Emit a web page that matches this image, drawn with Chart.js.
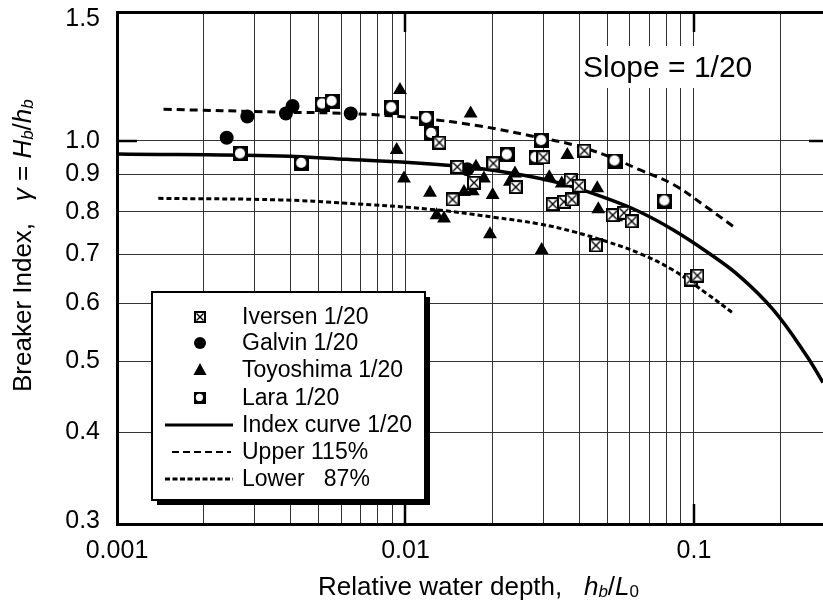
<!DOCTYPE html>
<html>
<head>
<meta charset="utf-8">
<script src="https://cdn.jsdelivr.net/npm/chart.js@4.4.1/dist/chart.umd.min.js"></script>
<style>
  html, body { margin: 0; padding: 0; background: #fff; }
  #wrap { width: 823px; height: 601px; }
</style>
</head>
<body>
<div id="wrap"><canvas id="grafico" width="823" height="601"></canvas></div>
<script>
// Datos (x = hb/L0, y = gamma)
const iversenX = [0.0131, 0.01512, 0.02016, 0.01727, 0.01456, 0.0241, 0.03003, 0.03737, 0.03236, 0.0354, 0.0377, 0.04168, 0.0399, 0.05224, 0.0572, 0.0608, 0.0457, 0.0974, 0.1027];
const iversenY = [0.995, 0.922, 0.932, 0.877, 0.832, 0.865, 0.950, 0.885, 0.820, 0.826, 0.832, 0.970, 0.869, 0.792, 0.798, 0.777, 0.720, 0.647, 0.655];

const galvinX = [0.0024, 0.00283, 0.00385, 0.00406, 0.00646, 0.01637];
const galvinY = [1.01, 1.08, 1.09, 1.116, 1.09, 0.915];

const toyoX = [0.00957, 0.00932, 0.00988, 0.01682, 0.01755, 0.0187, 0.01595, 0.0171, 0.01216, 0.02005, 0.02396, 0.02302, 0.0315, 0.0348, 0.0364, 0.0462, 0.01282, 0.0136, 0.01963, 0.02965, 0.0466, 0.0537];
const toyoY = [1.174, 0.972, 0.889, 1.09, 0.922, 0.889, 0.852, 0.854, 0.850, 0.844, 0.903, 0.880, 0.892, 0.875, 0.957, 0.862, 0.792, 0.784, 0.746, 0.710, 0.807, 0.787];

const laraX = [0.00268, 0.00437, 0.00516, 0.00557, 0.00896, 0.01185, 0.01233, 0.02254, 0.02965, 0.02834, 0.05324, 0.0793];
const laraY = [0.96, 0.932, 1.123, 1.132, 1.11, 1.074, 1.024, 0.957, 1.001, 0.949, 0.939, 0.828];

const indexX = [0.001, 0.00367, 0.00625, 0.01465, 0.02364, 0.0343, 0.0498, 0.065, 0.0848, 0.1107, 0.1443, 0.1884, 0.245, 0.28];
const indexY = [0.960, 0.954, 0.944, 0.925, 0.903, 0.876, 0.835, 0.800, 0.756, 0.706, 0.653, 0.588, 0.510, 0.468];

const upperX = [0.00145, 0.00367, 0.00646, 0.01122, 0.01812, 0.03085, 0.03817, 0.0498, 0.065, 0.0848, 0.1107, 0.137];
const upperY = [1.105, 1.095, 1.09, 1.074, 1.048, 1.006, 0.988, 0.955, 0.913, 0.872, 0.812, 0.764];

const lowerX = [0.00139, 0.00367, 0.00625, 0.01216, 0.02016, 0.02926, 0.03817, 0.0498, 0.065, 0.0848, 0.1107, 0.1368];
const lowerY = [0.835, 0.831, 0.822, 0.807, 0.787, 0.770, 0.752, 0.729, 0.702, 0.666, 0.619, 0.582];

// Ticks
const xTicks = [0.001, 0.002, 0.003, 0.004, 0.005, 0.006, 0.007, 0.008, 0.009, 0.01, 0.02, 0.03, 0.04, 0.05, 0.06, 0.07, 0.08, 0.09, 0.1, 0.2];
const xTickLabels = ['0.001', '', '', '', '', '', '', '', '', '0.01', '', '', '', '', '', '', '', '', '0.1', ''];
const yTicks = [0.3, 0.4, 0.5, 0.6, 0.7, 0.8, 0.9, 1.0, 1.5];
const yTickLabels = ['0.3', '0.4', '0.5', '0.6', '0.7', '0.8', '0.9', '1.0', '1.5'];
const majorX = [0.01, 0.1];
const majorY = [1.0];

const legendLabels = ['Iversen 1/20', 'Galvin 1/20', 'Toyoshima 1/20', 'Lara 1/20', 'Index curve 1/20', 'Upper 115%', 'Lower   87%'];
const slopeText = 'Slope = 1/20';

const FUENTE = '"Liberation Sans", Arial, Helvetica, sans-serif';

const pts = (xs, ys) => xs.map((x, i) => ({ x: x, y: ys[i] }));

// Marcadores dibujados a mano
function marcaIversen(s) {
    const c = document.createElement('canvas');
    c.width = s; c.height = s;
    const g = c.getContext('2d');
    g.fillStyle = '#fff';
    g.fillRect(0, 0, s, s);
    g.strokeStyle = '#000';
    g.lineWidth = 2;
    g.strokeRect(1, 1, s - 2, s - 2);
    g.lineWidth = 1.4;
    g.beginPath();
    g.moveTo(2.5, 2.5); g.lineTo(s - 2.5, s - 2.5);
    g.moveTo(s - 2.5, 2.5); g.lineTo(2.5, s - 2.5);
    g.stroke();
    return c;
}
function marcaLara(s) {
    const c = document.createElement('canvas');
    c.width = s; c.height = s;
    const g = c.getContext('2d');
    g.fillStyle = '#000';
    g.fillRect(0, 0, s, s);
    g.fillStyle = '#fff';
    g.beginPath();
    g.arc(s / 2 - 0.6, s / 2 - 0.6, s / 2 - 2.4, 0, Math.PI * 2);
    g.fill();
    return c;
}

const imgIversen = marcaIversen(14);
const imgLara = marcaLara(15);
const imgIversenLeg = marcaIversen(12);
const imgLaraLeg = marcaLara(12);

function linea(ctx, x1, y1, x2, y2) {
    ctx.beginPath(); ctx.moveTo(x1, y1); ctx.lineTo(x2, y2); ctx.stroke();
}

// Texto con partes en cursiva / subindice
function textoRico(ctx, partes, x, y) {
    let cx = x;
    partes.forEach(p => {
        ctx.font = p.f;
        ctx.fillText(p.t, cx, y + (p.dy || 0));
        cx += ctx.measureText(p.t).width;
    });
}

const decor = {
    id: 'decor',
    beforeDatasetsDraw(chart) {
        const { ctx, chartArea: a, scales } = chart;
        ctx.save();
        // caja blanca del texto de pendiente
        ctx.fillStyle = '#fff';
        ctx.fillRect(581, 46, 180, 42);
        ctx.fillStyle = '#000';
        ctx.font = '30px ' + FUENTE;
        ctx.textBaseline = 'alphabetic';
        ctx.fillText(slopeText, 583, 77);
        // ticks mayores hacia adentro
        ctx.strokeStyle = '#000';
        ctx.lineWidth = 2.5;
        majorX.forEach(v => {
            const px = Math.round(scales.x.getPixelForValue(v));
            linea(ctx, px, a.top, px, a.top + 20);
            linea(ctx, px, a.bottom - 20, px, a.bottom);
        });
        majorY.forEach(v => {
            const py = Math.round(scales.y.getPixelForValue(v));
            linea(ctx, a.left, py, a.left + 20, py);
            linea(ctx, a.right - 14, py, a.right, py);
        });

        // etiquetas de los ejes, en la posicion de la escala
        ctx.fillStyle = '#000';
        ctx.font = '25px ' + FUENTE;
        ctx.textAlign = 'right';
        ctx.textBaseline = 'middle';
        yTicks.forEach((v, i) => {
            let py = scales.y.getPixelForValue(v);
            py = Math.min(Math.max(py, a.top + 7), a.bottom - 3);
            ctx.fillText(yTickLabels[i], a.left - 17, py);
        });
        ctx.textAlign = 'center';
        ctx.textBaseline = 'alphabetic';
        xTicks.forEach((v, i) => {
            if (!xTickLabels[i]) return;
            ctx.fillText(xTickLabels[i], scales.x.getPixelForValue(v), a.bottom + 34);
        });
        ctx.restore();
    },
    afterDraw(chart) {
        const ctx = chart.ctx;
        ctx.save();
        // Leyenda
        const bx = 152, by = 292, bw = 273, bh = 208;
        ctx.fillStyle = '#000';
        ctx.fillRect(bx + 5, by + 5, bw, bh);
        ctx.fillStyle = '#fff';
        ctx.fillRect(bx, by, bw, bh);
        ctx.strokeStyle = '#000';
        ctx.lineWidth = 2;
        ctx.strokeRect(bx, by, bw, bh);

        const filas = [317, 343, 370, 398, 425, 452, 479];
        const mx = 200, tx = 242;
        ctx.drawImage(imgIversenLeg, mx - 6, filas[0] - 6);
        ctx.fillStyle = '#000';
        ctx.beginPath(); ctx.arc(mx, filas[1], 6, 0, Math.PI * 2); ctx.fill();
        ctx.beginPath();
        ctx.moveTo(mx, filas[2] - 7); ctx.lineTo(mx + 6.5, filas[2] + 5); ctx.lineTo(mx - 6.5, filas[2] + 5);
        ctx.closePath(); ctx.fill();
        ctx.drawImage(imgLaraLeg, mx - 6, filas[3] - 6);

        ctx.lineWidth = 3;
        ctx.setLineDash([]);
        linea(ctx, 165, filas[4], 233, filas[4]);
        ctx.lineWidth = 2;
        ctx.setLineDash([7, 4]);
        linea(ctx, 172, filas[5], 231, filas[5]);
        ctx.lineWidth = 3;
        ctx.setLineDash([5, 2.5]);
        linea(ctx, 165, filas[6], 233, filas[6]);
        ctx.setLineDash([]);

        ctx.font = '23px ' + FUENTE;
        ctx.textBaseline = 'middle';
        ctx.textAlign = 'left';
        legendLabels.forEach((t, i) => ctx.fillText(t, tx, filas[i] + 1));

        // Titulos de ejes
        ctx.textBaseline = 'alphabetic';
        const normal = '26px ' + FUENTE;
        const ital = 'italic 26px ' + FUENTE;
        const sub = 'italic 17px ' + FUENTE;
        textoRico(ctx, [
            { t: 'Relative water depth,   ', f: normal },
            { t: 'h', f: ital }, { t: 'b', f: sub, dy: 2 },
            { t: '/', f: normal },
            { t: 'L', f: ital }, { t: '0', f: '17px ' + FUENTE, dy: 2 }
        ], 318, 595);

        ctx.translate(31, 392);
        ctx.rotate(-Math.PI / 2);
        textoRico(ctx, [
            { t: 'Breaker Index,   ', f: normal },
            { t: 'γ', f: ital },
            { t: ' = ', f: normal },
            { t: 'H', f: ital }, { t: 'b', f: sub, dy: 2 },
            { t: '/', f: normal },
            { t: 'h', f: ital }, { t: 'b', f: sub, dy: 2 }
        ], 0, 0);
        ctx.restore();
    }
};

new Chart(document.getElementById('grafico'), {
    type: 'scatter',
    data: {
        datasets: [
            { label: legendLabels[0], data: pts(iversenX, iversenY), pointStyle: imgIversen, pointRadius: 7 },
            { label: legendLabels[1], data: pts(galvinX, galvinY), pointStyle: 'circle', pointRadius: 7, backgroundColor: '#000', borderColor: '#000', borderWidth: 0 },
            { label: legendLabels[2], data: pts(toyoX, toyoY), pointStyle: 'triangle', pointRadius: 8, backgroundColor: '#000', borderColor: '#000', borderWidth: 0 },
            { label: legendLabels[3], data: pts(laraX, laraY), pointStyle: imgLara, pointRadius: 7 },
            { label: legendLabels[4], data: pts(indexX, indexY), showLine: true, borderColor: '#000', borderWidth: 3.5, pointRadius: 0, tension: 0.4 },
            { label: legendLabels[5], data: pts(upperX, upperY), showLine: true, borderColor: '#000', borderWidth: 3, borderDash: [8, 5], pointRadius: 0, tension: 0.4 },
            { label: legendLabels[6], data: pts(lowerX, lowerY), showLine: true, borderColor: '#000', borderWidth: 3, borderDash: [5, 3], pointRadius: 0, tension: 0.4 }
        ]
    },
    options: {
        responsive: false,
        animation: false,
        devicePixelRatio: 1,
        layout: { autoPadding: false, padding: { top: 12, right: 0, left: 0, bottom: 0 } },
        plugins: { legend: { display: false }, tooltip: { enabled: false } },
        scales: {
            x: {
                type: 'logarithmic',
                min: 0.001,
                max: 0.28,
                afterBuildTicks: s => { s.ticks = xTicks.map(v => ({ value: v })); },
                afterFit: s => { s.height = 77; },
                ticks: { display: false, autoSkip: false, maxRotation: 0 },
                grid: { color: '#333', lineWidth: 1, drawTicks: false },
                border: { display: true, color: '#000', width: 3 }
            },
            y: {
                type: 'logarithmic',
                min: 0.3,
                max: 1.5,
                afterBuildTicks: s => { s.ticks = yTicks.map(v => ({ value: v })); },
                afterFit: s => { s.width = 117; },
                ticks: { display: false, autoSkip: false },
                grid: {
                    color: c => (c.tick && c.tick.value === 1.5) ? '#000' : '#333',
                    lineWidth: c => (c.tick && c.tick.value === 1.5) ? 3 : 1,
                    drawTicks: false
                },
                border: { display: true, color: '#000', width: 3 }
            }
        }
    },
    plugins: [decor]
});
</script>
</body>
</html>
